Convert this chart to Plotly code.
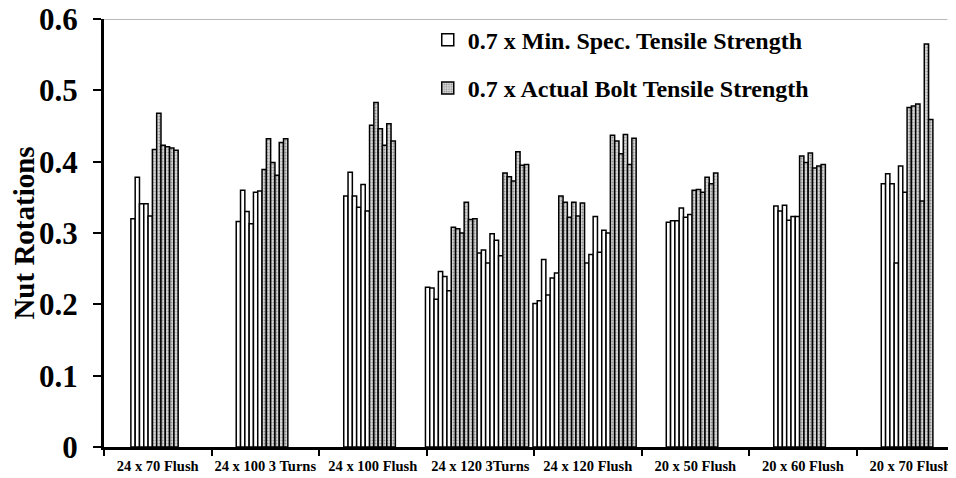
import plotly.graph_objects as go

# group names along the x axis
groups = ["24 x 70 Flush", "24 x 100 3 Turns", "24 x 100 Flush", "24 x 120 3Turns",
          "24 x 120 Flush", "20 x 50 Flush", "20 x 60 Flush", "20 x 70 Flush"]

# nut rotations per bolt, read left to right inside each group
vals_24x70f = [0.320, 0.378, 0.341, 0.341, 0.324, 0.417, 0.468, 0.423, 0.421, 0.419, 0.416]
vals_24x100t = [0.316, 0.360, 0.330, 0.313, 0.357, 0.359, 0.389, 0.432, 0.399, 0.381, 0.427, 0.432]
vals_24x100f = [0.352, 0.385, 0.352, 0.336, 0.368, 0.331, 0.451, 0.483, 0.446, 0.423, 0.453, 0.429]
vals_24x120t = [0.224, 0.223, 0.207, 0.246, 0.239, 0.219, 0.308, 0.306, 0.300, 0.343, 0.319, 0.320,
                0.272, 0.276, 0.258, 0.299, 0.290, 0.268, 0.384, 0.379, 0.373, 0.414, 0.395, 0.396]
vals_24x120f = [0.201, 0.205, 0.263, 0.213, 0.237, 0.244, 0.352, 0.343, 0.322, 0.343, 0.324, 0.342,
                0.258, 0.270, 0.323, 0.273, 0.304, 0.300, 0.437, 0.429, 0.411, 0.438, 0.396, 0.433]
vals_20x50f = [0.315, 0.317, 0.317, 0.335, 0.322, 0.326, 0.360, 0.361, 0.357, 0.378, 0.369, 0.384]
vals_20x60f = [0.338, 0.331, 0.339, 0.318, 0.323, 0.323, 0.408, 0.399, 0.412, 0.391, 0.394, 0.396]
vals_20x70f = [0.369, 0.383, 0.369, 0.258, 0.394, 0.357, 0.476, 0.478, 0.481, 0.345, 0.565, 0.459]

# which load basis each bar uses: "M" = min. spec, "A" = actual bolt strength
kind_11 = ["M"] * 5 + ["A"] * 6
kind_12 = ["M"] * 6 + ["A"] * 6
kind_24 = ["M"] * 6 + ["A"] * 6 + ["M"] * 6 + ["A"] * 6

all_vals = [vals_24x70f, vals_24x100t, vals_24x100f, vals_24x120t,
            vals_24x120f, vals_20x50f, vals_20x60f, vals_20x70f]
all_kinds = [kind_11, kind_12, kind_12, kind_24, kind_24, kind_12, kind_12, kind_12]

pitch = 0.040
serif = "Liberation Serif, Times New Roman, serif"

xs = {"M": [], "A": []}
ys = {"M": [], "A": []}
for g, (vals, kinds) in enumerate(zip(all_vals, all_kinds)):
    n = len(vals)
    for i, (v, k) in enumerate(zip(vals, kinds)):
        xs[k].append(g - 0.03 + (i - (n - 1) / 2) * pitch)
        ys[k].append(v)

fig = go.Figure()
fig.add_trace(go.Bar(
    x=xs["M"], y=ys["M"], width=pitch,
    name="0.7 x Min. Spec. Tensile Strength", legendgroup="m",
    marker=dict(color="white", line=dict(color="black", width=1.5))))
fig.add_trace(go.Bar(
    x=xs["A"], y=ys["A"], width=pitch,
    name="0.7 x Actual Bolt Tensile Strength", legendgroup="a",
    marker=dict(color="#d8d8d8", line=dict(color="black", width=1.5),
                pattern=dict(shape=".", fgcolor="#444", size=3, solidity=0.35))))

# thin frame line along the top of the plot
fig.add_shape(type="line", xref="paper", yref="y", x0=0, x1=0.99, y0=0.6, y1=0.6,
              line=dict(color="#777", width=1))

# page body adds an 8px offset, so the figure is drawn 8px smaller
fig.update_layout(
    width=948, height=470,
    margin=dict(l=96, r=0, t=11, b=31),
    paper_bgcolor="white", plot_bgcolor="white",
    barmode="overlay", showlegend=True,
    font=dict(family=serif, color="black"),
    legend=dict(x=0.380, y=1.003, xanchor="left", yanchor="top",
                font=dict(family=serif, size=24, weight="bold"),
                tracegroupgap=14, bgcolor="rgba(0,0,0,0)"),
)
fig.update_xaxes(
    range=[-0.5, 7.425], showgrid=False, zeroline=False, automargin=False,
    showline=True, linecolor="black", linewidth=3,
    tickvals=list(range(len(groups))), ticktext=groups, ticks="",
    tickfont=dict(family=serif, size=14.5, weight="bold"), ticklabelstandoff=4,
    minor=dict(tick0=0.5, dtick=1, ticks="outside", ticklen=6, tickwidth=2, tickcolor="black"),
)
fig.update_yaxes(
    range=[0, 0.6], showgrid=False, zeroline=False, automargin=False,
    showline=True, linecolor="black", linewidth=3,
    tickvals=[0, 0.1, 0.2, 0.3, 0.4, 0.5, 0.6],
    ticktext=["0", "0.1", "0.2", "0.3", "0.4", "0.5", "0.6"],
    ticks="outside", ticklen=8, tickwidth=2, tickcolor="black",
    tickfont=dict(family=serif, size=31, weight="bold"), ticklabelstandoff=9,
    ticklabeloverflow="allow",
    title=dict(text="Nut Rotations", font=dict(family=serif, size=29, weight="bold"), standoff=2),
)

fig.write_html("out.html")
